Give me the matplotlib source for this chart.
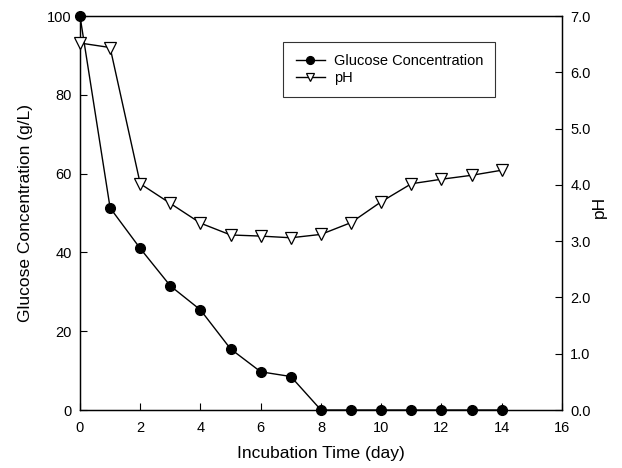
import matplotlib
matplotlib.use("Agg")
import matplotlib.pyplot as plt

plt.rcParams['font.family'] = ['Liberation Sans', 'DejaVu Sans']

days = list(range(0, 15))
glucose = [100, 51.3, 41.0, 31.5, 25.4, 15.5, 9.7, 8.5, 0, 0, 0, 0, 0, 0, 0]
ph = [6.52, 6.44, 4.02, 3.67, 3.32, 3.11, 3.09, 3.06, 3.12, 3.33, 3.70, 4.02, 4.10, 4.17, 4.26]

x_ticks = [0, 2, 4, 6, 8, 10, 12, 14, 16]
left_ticks = [0, 20, 40, 60, 80, 100]
right_ticks = [0, 1, 2, 3, 4, 5, 6, 7]

fig = plt.figure(figsize=(6.22, 4.68), dpi=100)
ax = fig.add_axes([0.1286, 0.1239, 0.7749, 0.8419])
ax2 = ax.twinx()

l1, = ax.plot(days, glucose, '-', color='black', lw=1, marker='o', ms=7,
              markerfacecolor='black', markeredgecolor='black', label='Glucose Concentration',
              zorder=3, clip_on=False)
l2, = ax2.plot(days, ph, '-', color='black', lw=1, marker='v', ms=8,
               markerfacecolor='white', markeredgecolor='black', markeredgewidth=0.9, label='pH',
               zorder=3, clip_on=False)

ax.set_xlim(0, 16)
ax.set_ylim(0, 100)
ax2.set_ylim(0, 7)
ax.set_xticks(x_ticks)
ax.set_yticks(left_ticks)
ax2.set_yticks(right_ticks)
ax2.set_yticklabels([f"{v:.1f}" for v in right_ticks])

ax.tick_params(axis='both', direction='in', labelsize=10.5, length=5, width=0.8, top=False)
ax2.tick_params(axis='y', direction='in', labelsize=10.5, length=5, width=0.8, pad=6)
ax.tick_params(axis='x', pad=8)
ax.tick_params(axis='y', pad=6)

ax.set_xlabel('Incubation Time (day)', fontsize=12.5, labelpad=8)
ax.set_ylabel('Glucose Concentration (g/L)', fontsize=12.5, labelpad=10)
ax2.set_ylabel('pH', fontsize=12.5, rotation=90)
ax2.yaxis.set_label_coords(1.063, 0.515)

for a in (ax, ax2):
    for s in a.spines.values():
        s.set_linewidth(0.9)

leg = ax.legend(handles=[l1, l2], loc='upper left', bbox_to_anchor=(0.422, 0.935),
                fontsize=10.5, frameon=True, fancybox=False, edgecolor='black',
                handlelength=2.0, borderpad=0.85, labelspacing=0.2, handletextpad=0.6,
                markerscale=0.8, borderaxespad=0)
leg.get_frame().set_linewidth(0.8)
leg.set_zorder(5)

fig.savefig('out.png', dpi=100)
